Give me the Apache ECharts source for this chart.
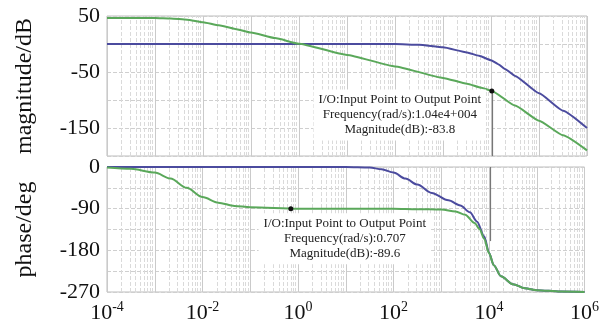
<!DOCTYPE html>
<html>
<head>
<meta charset="utf-8">
<script src="https://cdn.jsdelivr.net/npm/echarts@6/dist/echarts.min.js"></script>
<style>
html, body { margin: 0; padding: 0; background: #fff; }
#chart { width: 602px; height: 329px; }
</style>
</head>
<body>
<div id="chart"></div>
<script>
// frequencies kept as log10(rad/s)
const greenMagW = [-4, -3, -2.67, -2.33, -2, -1.67, -1.33, -1, -0.5, 0, 1, 2, 3, 3.5, 3.8, 4.017, 4.5, 5, 5.5, 6]
const greenMag = [46.5, 46.3, 45.5, 43.5, 39, 33.5, 27, 20.5, 10.5, 0.5, -19.5, -40, -60.5, -71, -78, -83.8, -110, -137, -163, -190]
const blueMagW = [-4, 0, 2, 2.5, 3, 3.5, 3.75, 4, 4.15, 4.3, 4.5, 5, 5.5, 6]
const blueMag = [0, 0, 0, -1.5, -6, -15, -21, -29, -36, -45, -57, -88, -119, -150]

const greenPhW = [-4, -3.5, -3, -2.67, -2.33, -2, -1.67, -1.33, -1, 0, 1, 2, 2.5, 3, 3.3, 3.5, 3.7, 3.8, 3.9, 4, 4.1, 4.25, 4.5, 4.75, 5, 5.5, 6]
const greenPh = [-1, -4, -12, -25, -45, -65, -77, -84, -87, -90, -90, -90, -91, -92, -96, -103, -121, -134, -155, -186, -212, -236, -253, -262, -266, -269, -270]
const bluePhW = [-4, 1, 1.5, 1.75, 2, 2.25, 2.5, 2.8, 3.15, 3.4, 3.6, 3.75, 3.9, 4, 4.1, 4.25, 4.5, 4.75, 5, 5.5, 6]
const bluePh = [0, 0, -1, -5, -12, -25, -38, -56, -72, -83, -98, -118, -150, -185, -212, -236, -253, -262, -266, -269, -270]

const magTicks = [50, -50, -150]
const phaseTicks = [0, -90, -180, -270]
const decadeLabels = [-4, -2, 0, 2, 4, 6]

const tipMag = { w: 4.017, v: -83.8, lines: ['I/O:Input Point to Output Point', 'Frequency(rad/s):1.04e4+004', 'Magnitude(dB):-83.8'] }
const tipPhase = { w: -0.15, v: -90, lines: ['I/O:Input Point to Output Point', 'Frequency(rad/s):0.707', 'Magnitude(dB):-89.6'] }

const FONT = '"Liberation Serif", "Times New Roman", serif'
const BLUE = '#4b4b9e'
const GREEN = '#5aa85a'

// minor log grid lines (2..9 within each decade)
const minorLines = []
for (let d = -4; d < 6; d++) {
  for (let k = 2; k <= 9; k++) minorLines.push({ xAxis: d + Math.log10(k) })
}

const chart = echarts.init(document.getElementById('chart'))

function xAxisCfg(gridIndex, showLabels) {
  return {
    type: 'value', gridIndex, min: -4, max: 6, interval: 1,
    axisLine: { show: false }, axisTick: { show: false },
    axisLabel: {
      show: showLabels, margin: 8,
      formatter: v => decadeLabels.includes(v) ? '{b|10}{s|' + v + '}' : '',
      rich: {
        b: { fontFamily: FONT, fontSize: 22, color: '#111', verticalAlign: 'bottom' },
        s: { fontFamily: FONT, fontSize: 14, color: '#111', verticalAlign: 'bottom', padding: [0, 0, 10, 0] },
      },
    },
    splitLine: { lineStyle: { color: '#cacaca', width: 1 } },
  }
}

function yAxisCfg(gridIndex, min, max, interval, ticks, name) {
  return {
    type: 'value', gridIndex, min, max, interval,
    name, nameLocation: 'middle', nameGap: 70, nameRotate: 90,
    nameTextStyle: { fontFamily: FONT, fontSize: 24, color: '#111' },
    axisLine: { show: false }, axisTick: { show: false },
    axisLabel: {
      margin: 7, fontFamily: FONT, fontSize: 22, color: '#111',
      formatter: v => ticks.includes(v) ? String(v) : '',
    },
    splitLine: { lineStyle: { color: '#cfcfcf', type: 'dashed', width: 1 } },
  }
}

const minorMark = {
  silent: true, symbol: ['none', 'none'], animation: false, z: 0,
  label: { show: false },
  lineStyle: { color: '#dadada', type: 'dashed', width: 1 },
}

function tipPoint(tip, offset) {
  return {
    silent: true, z: 20, animation: false,
    symbol: 'circle', symbolSize: 5,
    itemStyle: { color: '#111' },
    label: {
      show: true, position: 'inside', offset,
      formatter: tip.lines.join('\n'),
      fontFamily: FONT, fontSize: 13, lineHeight: 15, color: '#222',
      backgroundColor: '#fff', padding: [3, 5],
    },
    data: [{ coord: [tip.w, tip.v] }],
  }
}

function curve(name, xi, w, v, color, smooth, extra) {
  return Object.assign({
    name, type: 'line', xAxisIndex: xi, yAxisIndex: xi, z: 5,
    showSymbol: false, smooth, smoothMonotone: 'x',
    lineStyle: { color, width: 2 },
    data: w.map((x, i) => [x, v[i]]),
  }, extra || {})
}

const option = {
  animation: false,
  backgroundColor: '#fff',
  grid: [
    { left: 107, right: 15, top: 16, height: 140, show: true, borderColor: '#bdbdbd', backgroundColor: '#fff' },
    { left: 107, right: 15, top: 167, height: 125, show: true, borderColor: '#bdbdbd', backgroundColor: '#fff' },
  ],
  xAxis: [xAxisCfg(0, false), xAxisCfg(1, true)],
  yAxis: [
    yAxisCfg(0, -200, 50, 50, magTicks, 'magnitude/dB'),
    yAxisCfg(1, -270, 0, 45, phaseTicks, 'phase/deg'),
  ],
  series: [
    {
      type: 'line', xAxisIndex: 0, yAxisIndex: 0, data: [], z: 0,
      markLine: {
        ...minorMark,
        data: minorLines.concat([[
          { coord: [tipMag.w, tipMag.v], lineStyle: { color: '#777', type: 'solid', width: 1.2 } },
          { coord: [tipMag.w, -200] },
        ]]),
      },
    },
    {
      type: 'line', xAxisIndex: 1, yAxisIndex: 1, data: [], z: 0,
      markLine: {
        ...minorMark,
        data: minorLines.concat([[
          { coord: [tipMag.w, 0], lineStyle: { color: '#777', type: 'solid', width: 1.2 } },
          { coord: [tipMag.w, -160] },
        ]]),
      },
    },
    curve('blue-mag', 0, blueMagW, blueMag, BLUE, 0.15),
    curve('green-mag', 0, greenMagW, greenMag, GREEN, 0.15, { markPoint: tipPoint(tipMag, [-92, 24]) }),
    curve('blue-phase', 1, bluePhW, bluePh, BLUE, 0.3),
    curve('green-phase', 1, greenPhW, greenPh, GREEN, 0.3, { markPoint: tipPoint(tipPhase, [54, 30]) }),
  ],
}

chart.setOption(option)
</script>
</body>
</html>
